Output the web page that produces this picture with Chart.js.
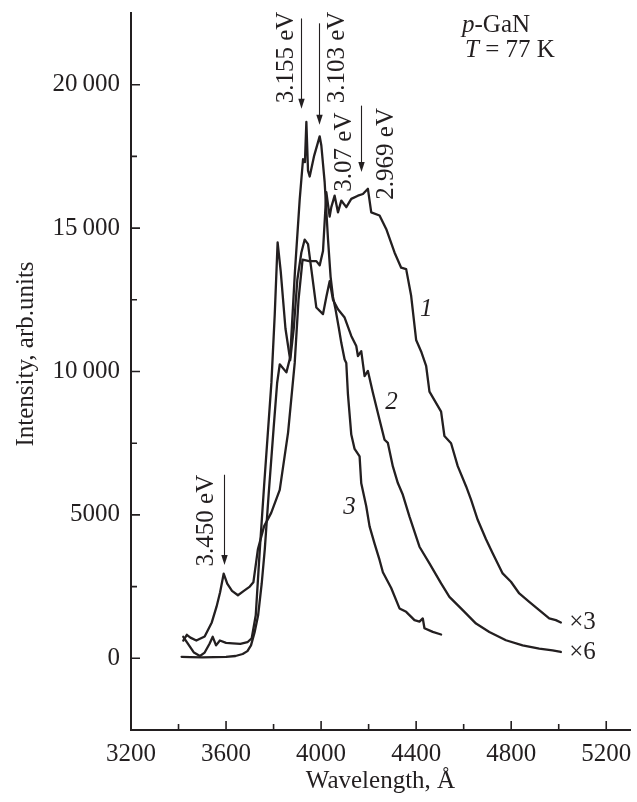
<!DOCTYPE html>
<html>
<head>
<meta charset="utf-8">
<script src="https://cdn.jsdelivr.net/npm/chart.js@4.4.1/dist/chart.umd.min.js"></script>
<style>
  html, body { margin: 0; padding: 0; background: #fff; }
  canvas { display: block; }
</style>
</head>
<body>
<canvas id="chart" width="637" height="802"></canvas>
<script>
// curve 1 (x3)
const wl1 = [3420, 3435, 3450, 3475, 3510, 3540, 3560, 3575, 3590, 3605, 3625, 3650, 3675, 3700, 3715, 3734, 3760, 3790, 3826, 3861, 3889, 3905, 3922, 3950, 3980, 3994, 4008, 4022, 4036, 4043, 4057, 4071, 4085, 4106, 4127, 4155, 4176, 4197, 4211, 4246, 4274, 4309, 4337, 4358, 4379, 4400, 4421, 4442, 4456, 4505, 4519, 4547, 4575, 4610, 4631, 4659, 4694, 4722, 4764, 4799, 4834, 4876, 4918, 4960, 4988, 5009];
const int1 = [620, 820, 720, 620, 760, 1250, 1800, 2300, 2950, 2600, 2350, 2200, 2350, 2500, 2650, 3800, 4600, 5070, 5870, 7870, 10300, 12500, 13900, 13850, 13850, 13700, 14200, 16250, 15400, 15730, 16130, 15550, 15960, 15730, 16020, 16130, 16190, 16370, 15550, 15440, 14970, 14150, 13620, 13570, 12640, 11100, 10700, 10200, 9300, 8600, 7750, 7500, 6700, 6000, 5530, 4830, 4150, 3660, 2960, 2670, 2260, 1970, 1680, 1390, 1330, 1250];

// curve 2 (x6)
const wl2 = [3420, 3440, 3465, 3490, 3510, 3530, 3544, 3558, 3574, 3600, 3628, 3660, 3690, 3708, 3725, 3742, 3760, 3791, 3805, 3817, 3830, 3850, 3870, 3885, 3900, 3917, 3931, 3945, 3960, 3980, 4008, 4022, 4036, 4050, 4071, 4099, 4127, 4148, 4155, 4169, 4183, 4197, 4218, 4246, 4267, 4281, 4302, 4323, 4344, 4372, 4414, 4456, 4505, 4540, 4596, 4652, 4708, 4778, 4848, 4918, 4974, 5009];
const int2 = [750, 500, 200, 80, 200, 500, 750, 450, 620, 540, 520, 500, 560, 700, 1500, 3780, 6000, 9620, 12000, 14500, 13500, 11500, 10400, 11500, 13200, 14150, 14600, 14440, 13500, 12230, 12000, 12600, 13150, 12500, 12170, 11880, 11240, 10890, 10540, 10710, 9840, 10020, 9260, 8320, 7620, 7510, 6690, 6110, 5700, 4940, 3890, 3310, 2610, 2140, 1680, 1210, 920, 630, 450, 340, 280, 220];

// curve 3
const wl3 = [3413, 3450, 3500, 3550, 3600, 3640, 3670, 3690, 3705, 3720, 3735, 3750, 3763, 3780, 3800, 3815, 3826, 3854, 3870, 3890, 3910, 3924, 3932, 3938, 3945, 3952, 3970, 3994, 4001, 4015, 4029, 4040, 4050, 4060, 4075, 4085, 4099, 4106, 4113, 4127, 4141, 4162, 4169, 4190, 4204, 4225, 4246, 4260, 4295, 4330, 4358, 4393, 4414, 4428, 4435, 4470, 4505];
const int3 = [50, 40, 30, 40, 50, 80, 150, 250, 450, 900, 1500, 2600, 3800, 5800, 8000, 9600, 10250, 9970, 10500, 13500, 16000, 17400, 17300, 18700, 17000, 16800, 17500, 18200, 17880, 16600, 14620, 13300, 12600, 12200, 11500, 11000, 10420, 10300, 9200, 7800, 7300, 7040, 6100, 5300, 4600, 4000, 3430, 3000, 2450, 1740, 1620, 1330, 1280, 1390, 1050, 920, 830];

const xTicks = [3200, 3600, 4000, 4400, 4800, 5200];
const yTicks = [0, 5000, 10000, 15000, 20000];

// peak markers: [wavelength, arrow top, arrow tip]
const peakArrows = [
  [3917, 22310, 19160],
  [3991, 22140, 18600],
  [4166, 19270, 16960],
  [3591, 6400, 3250]
];

const ink = '#231f20';
const serif = '"Liberation Serif", "Times New Roman", serif';

const toPoints = (xs, ys) => xs.map((v, i) => ({ x: v, y: ys[i] }));

const decorations = {
  id: 'decorations',
  afterDraw(chart) {
    const { ctx, chartArea: area, scales: { x, y } } = chart;
    const px = v => x.getPixelForValue(v);
    const py = v => y.getPixelForValue(v);
    ctx.save();

    // inward ticks
    ctx.strokeStyle = ink;
    ctx.lineWidth = 1.6;
    ctx.beginPath();
    for (let v = 3400; v <= 5200; v += 200) {
      const len = v % 400 === 0 ? 9 : 6;
      ctx.moveTo(px(v), area.bottom);
      ctx.lineTo(px(v), area.bottom - len);
    }
    for (let v = 0; v <= 20000; v += 2500) {
      const len = v % 5000 === 0 ? 9 : 6;
      ctx.moveTo(area.left, py(v));
      ctx.lineTo(area.left + len, py(v));
    }
    ctx.stroke();

    // arrows
    ctx.lineWidth = 1.1;
    ctx.fillStyle = ink;
    peakArrows.forEach(([wl, top, tip]) => {
      const ax = Math.round(px(wl)) + 0.5;
      const t = py(top), b = py(tip);
      ctx.beginPath();
      ctx.moveTo(ax, t);
      ctx.lineTo(ax, b - 6);
      ctx.stroke();
      ctx.beginPath();
      ctx.moveTo(ax, b);
      ctx.lineTo(ax - 3.2, b - 10);
      ctx.lineTo(ax + 3.2, b - 10);
      ctx.closePath();
      ctx.fill();
    });

    // rotated energy labels
    const vText = (txt, wl, val) => {
      ctx.save();
      ctx.translate(px(wl), py(val));
      ctx.rotate(-Math.PI / 2);
      ctx.font = '25px ' + serif;
      ctx.fillStyle = ink;
      ctx.textAlign = 'center';
      ctx.textBaseline = 'middle';
      ctx.fillText(txt, 0, 0);
      ctx.restore();
    };
    vText('3.155 eV', 3855, 20950);
    vText('3.103 eV', 4068, 20950);
    vText('3.07 eV', 4098, 17650);
    vText('2.969 eV', 4275, 17590);
    vText('3.450 eV', 3519, 4800);

    // axis titles
    ctx.fillStyle = ink;
    ctx.font = '25px ' + serif;
    ctx.textAlign = 'center';
    ctx.textBaseline = 'middle';
    ctx.fillText('Wavelength, Å', (area.left + area.right) / 2, 781);
    ctx.save();
    ctx.translate(26, 354);
    ctx.rotate(-Math.PI / 2);
    ctx.fillText('Intensity, arb.units', 0, 0);
    ctx.restore();

    // curve numbers and multipliers
    ctx.font = 'italic 25px ' + serif;
    ctx.fillText('1', px(4443), py(12170));
    ctx.fillText('2', px(4296), py(8917));
    ctx.fillText('3', px(4120), py(5246));
    ctx.font = '25px ' + serif;
    ctx.textAlign = 'left';
    ctx.fillText('\u00d73', px(5044), py(1260));
    ctx.fillText('\u00d76', px(5044), py(210));

    // sample label
    const runs = (parts, lx, ly) => {
      let cx = lx;
      parts.forEach(([txt, font]) => {
        ctx.font = font;
        ctx.fillText(txt, cx, ly);
        cx += ctx.measureText(txt).width;
      });
    };
    runs([['p', 'italic 25px ' + serif], ['-GaN', '25px ' + serif]], 462, 25);
    runs([['T', 'italic 25px ' + serif], [' = 77 K', '25px ' + serif]], 465, 50);

    ctx.restore();
  }
};

const lineStyle = {
  borderColor: ink,
  borderWidth: 2.3,
  pointRadius: 0,
  tension: 0,
  fill: false,
  borderJoinStyle: 'round',
  borderCapStyle: 'round'
};

new Chart(document.getElementById('chart').getContext('2d'), {
  type: 'line',
  data: {
    datasets: [
      { label: '1', data: toPoints(wl1, int1), ...lineStyle },
      { label: '2', data: toPoints(wl2, int2), ...lineStyle },
      { label: '3', data: toPoints(wl3, int3), ...lineStyle }
    ]
  },
  options: {
    responsive: false,
    animation: false,
    layout: { padding: { left: 0, top: 13, right: 7, bottom: 0 } },
    plugins: { legend: { display: false }, tooltip: { enabled: false } },
    scales: {
      x: {
        type: 'linear',
        min: 3200,
        max: 5300,
        afterBuildTicks: s => { s.ticks = xTicks.map(v => ({ value: v })); },
        afterFit: s => { s.height = 72; s.paddingLeft = 0; s.paddingRight = 0; },
        grid: { display: false, drawTicks: false },
        border: { display: true, color: ink, width: 2 },
        ticks: { color: ink, font: { family: serif, size: 25 }, padding: 9, maxRotation: 0, callback: v => String(v) }
      },
      y: {
        type: 'linear',
        min: -2500,
        max: 22500,
        afterBuildTicks: s => { s.ticks = yTicks.map(v => ({ value: v })); },
        afterFit: s => { s.width = 131; s.paddingTop = 0; s.paddingBottom = 0; },
        grid: { display: false, drawTicks: false },
        border: { display: true, color: ink, width: 2 },
        ticks: {
          color: ink,
          font: { family: serif, size: 25 },
          padding: 11,
          callback: v => v >= 10000 ? String(v).slice(0, 2) + '\u2009' + String(v).slice(2) : String(v)
        }
      }
    }
  },
  plugins: [decorations]
});
</script>
</body>
</html>
